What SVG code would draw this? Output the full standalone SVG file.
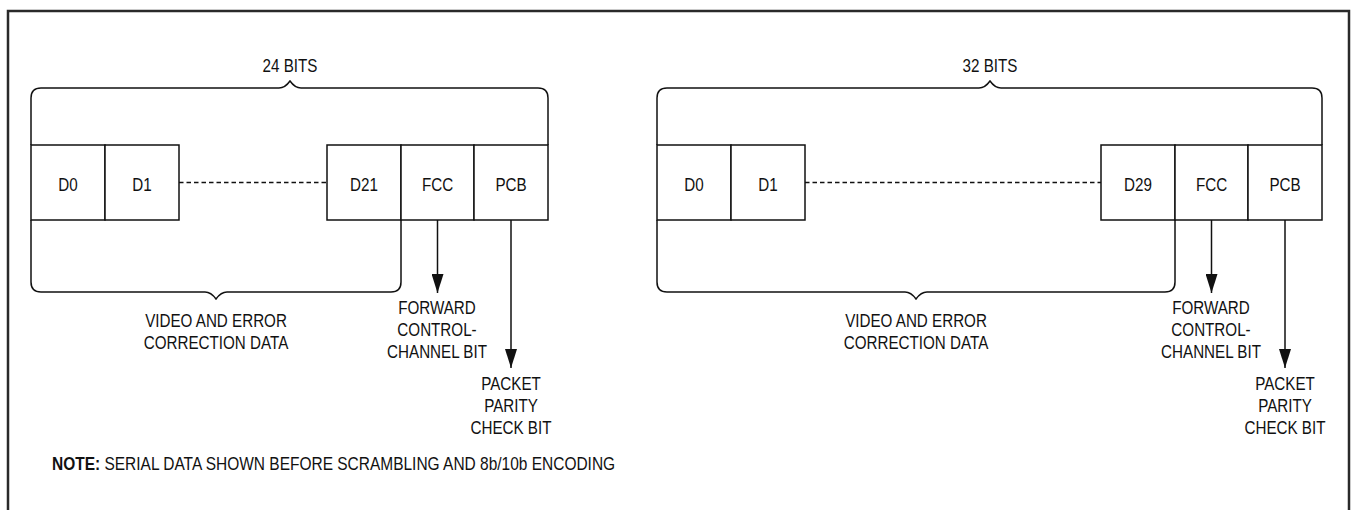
<svg xmlns="http://www.w3.org/2000/svg" width="1354" height="510" viewBox="0 0 1354 510">
<style>
text { font-family: "Liberation Sans", Arial, sans-serif; font-size: 19px; fill: #111; text-anchor: middle; }
.note { font-size: 17.5px; text-anchor: start; }
.b { font-weight: bold; }
.box { fill: #fff; stroke: #111; stroke-width: 1.5; }
.ln { fill: none; stroke: #111; stroke-width: 1.5; }
.dash { fill: none; stroke: #111; stroke-width: 1.3; stroke-dasharray: 4.5 3; }
.frame { fill: none; stroke: #2a2a2a; stroke-width: 2.5; }
</style>
<defs>
<marker id="ah" viewBox="0 0 19 12" refX="19" refY="6" markerWidth="19" markerHeight="12" markerUnits="userSpaceOnUse" orient="auto">
<path d="M0,0 L19,6 L0,12 z" fill="#111"/>
</marker>
</defs>
<rect width="1354" height="510" fill="#fff"/>
<path class="frame" d="M8,520 V11 H1349 V520"/>

<g id="left-diagram">
<g id="left-bits-label" transform="translate(290 0) scale(0.8 1)"><text x="0" y="72">24 BITS</text></g>
<g id="left-top-brace"><path class="ln" d="M31,145 V98 Q31,88 41,88 H279 Q285,88 290,81 Q295,88 301,88 H538 Q548,88 548,98 V145"/></g>
<g id="left-D0"><rect class="box" x="31" y="145" width="74" height="75"/><g transform="translate(68 0) scale(0.8 1)"><text x="0" y="191">D0</text></g></g>
<g id="left-D1"><rect class="box" x="105" y="145" width="74" height="75"/><g transform="translate(142 0) scale(0.8 1)"><text x="0" y="191">D1</text></g></g>
<g id="left-D21"><rect class="box" x="327" y="145" width="74" height="75"/><g transform="translate(364 0) scale(0.8 1)"><text x="0" y="191">D21</text></g></g>
<g id="left-FCC"><rect class="box" x="401" y="145" width="73" height="75"/><g transform="translate(437.5 0) scale(0.8 1)"><text x="0" y="191">FCC</text></g></g>
<g id="left-PCB"><rect class="box" x="474" y="145" width="74" height="75"/><g transform="translate(511 0) scale(0.8 1)"><text x="0" y="191">PCB</text></g></g>
<g id="left-bottom-brace"><path class="ln" d="M31,220 V282 Q31,292 41,292 H205 Q211,292 216,299 Q221,292 227,292 H391 Q401,292 401,282 V220"/></g>
<g id="left-video-label" transform="translate(216 0) scale(0.8 1)"><text x="0" y="327">VIDEO AND ERROR</text><text x="0" y="349">CORRECTION DATA</text></g>
<g id="left-fcc-label" transform="translate(437 0) scale(0.8 1)"><text x="0" y="314">FORWARD</text><text x="0" y="336">CONTROL-</text><text x="0" y="358">CHANNEL BIT</text></g>
<g id="left-pcb-label" transform="translate(511 0) scale(0.8 1)"><text x="0" y="390">PACKET</text><text x="0" y="412">PARITY</text><text x="0" y="434">CHECK BIT</text></g>
</g>

<g id="right-diagram">
<g id="right-bits-label" transform="translate(990 0) scale(0.8 1)"><text x="0" y="72">32 BITS</text></g>
<g id="right-top-brace"><path class="ln" d="M657,145 V98 Q657,88 667,88 H979 Q985,88 990,81 Q995,88 1001,88 H1312 Q1322,88 1322,98 V145"/></g>
<g id="right-D0"><rect class="box" x="657" y="145" width="74" height="75"/><g transform="translate(694 0) scale(0.8 1)"><text x="0" y="191">D0</text></g></g>
<g id="right-D1"><rect class="box" x="731" y="145" width="74" height="75"/><g transform="translate(768 0) scale(0.8 1)"><text x="0" y="191">D1</text></g></g>
<g id="right-D29"><rect class="box" x="1101" y="145" width="74" height="75"/><g transform="translate(1138 0) scale(0.8 1)"><text x="0" y="191">D29</text></g></g>
<g id="right-FCC"><rect class="box" x="1175" y="145" width="73" height="75"/><g transform="translate(1211.5 0) scale(0.8 1)"><text x="0" y="191">FCC</text></g></g>
<g id="right-PCB"><rect class="box" x="1248" y="145" width="74" height="75"/><g transform="translate(1285 0) scale(0.8 1)"><text x="0" y="191">PCB</text></g></g>
<g id="right-bottom-brace"><path class="ln" d="M657,220 V282 Q657,292 667,292 H905 Q911,292 916,299 Q921,292 927,292 H1165 Q1175,292 1175,282 V220"/></g>
<g id="right-video-label" transform="translate(916 0) scale(0.8 1)"><text x="0" y="327">VIDEO AND ERROR</text><text x="0" y="349">CORRECTION DATA</text></g>
<g id="right-fcc-label" transform="translate(1211 0) scale(0.8 1)"><text x="0" y="314">FORWARD</text><text x="0" y="336">CONTROL-</text><text x="0" y="358">CHANNEL BIT</text></g>
<g id="right-pcb-label" transform="translate(1285 0) scale(0.8 1)"><text x="0" y="390">PACKET</text><text x="0" y="412">PARITY</text><text x="0" y="434">CHECK BIT</text></g>
</g>

<g id="connectors">
<path class="dash" d="M179,182.5 H327"/>
<path class="dash" d="M805,182.5 H1101"/>
<path class="ln" d="M437.5,220 V293" marker-end="url(#ah)"/>
<path class="ln" d="M511,220 V368" marker-end="url(#ah)"/>
<path class="ln" d="M1211.5,220 V293" marker-end="url(#ah)"/>
<path class="ln" d="M1285,220 V368" marker-end="url(#ah)"/>
</g>

<g id="note" transform="translate(52 0) scale(0.885 1)"><text class="note" x="0" y="470"><tspan class="b">NOTE:</tspan> SERIAL DATA SHOWN BEFORE SCRAMBLING AND 8b/10b ENCODING</text></g>
</svg>
